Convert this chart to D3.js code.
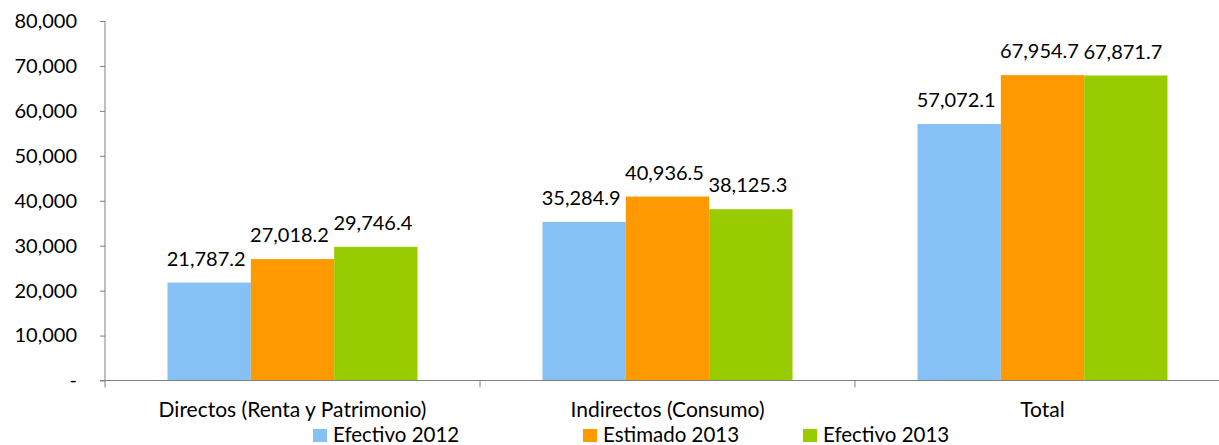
<!DOCTYPE html>
<html><head><meta charset="utf-8">
<script src="https://cdn.jsdelivr.net/npm/d3@7"></script>
<style>body{margin:0;background:#fff}svg{display:block}text{font-family:Lato,"Noto Sans",sans-serif;fill:#000}</style>
</head><body><svg id="c" width="1219" height="445"></svg>
<script>
const categories = ["Directos (Renta y Patrimonio)", "Indirectos (Consumo)", "Total"];
const seriesNames = ["Efectivo 2012", "Estimado 2013", "Efectivo 2013"];
const efectivo2012 = [21787.2, 35284.9, 57072.1];
const estimado2013 = [27018.2, 40936.5, 67954.7];
const efectivo2013 = [29746.4, 38125.3, 67871.7];
const seriesValues = [efectivo2012, estimado2013, efectivo2013];
const colors = ["#85C1F5", "#FF9900", "#99CC00"];
const yTicks = [0, 10000, 20000, 30000, 40000, 50000, 60000, 70000, 80000];

const svg = d3.select("#c");
const x0 = 105, x1 = 1230, yTop = 21, yBot = 380.5;
const x = d3.scaleBand().domain(categories).range([x0, x1]).paddingInner(0).paddingOuter(0);
const xs = d3.scaleBand().domain(d3.range(3)).range([0, x.bandwidth()]).paddingOuter(0.75).paddingInner(0);
const y = d3.scaleLinear().domain([0, 80000]).range([yBot, yTop]);
const fmtTick = v => v === 0 ? "-" : d3.format(",")(v);
const fmtVal = d3.format(",.1f");

// bars
categories.forEach((c, ci) => {
  const g = svg.append("g").attr("transform", `translate(${x(c)},0)`);
  seriesValues.forEach((vals, si) => {
    g.append("rect").attr("x", xs(si)).attr("width", xs.bandwidth())
      .attr("y", y(vals[ci])).attr("height", yBot - y(vals[ci])).attr("fill", colors[si]);
  });
  seriesValues.forEach((vals, si) => {
    g.append("text").attr("x", xs(si) + xs.bandwidth() / 2 - 3).attr("y", y(vals[ci]) - 17)
      .attr("text-anchor", "middle").style("font-size", "20px").text(fmtVal(vals[ci]));
  });
});

// y axis
const ya = svg.append("g").attr("transform", `translate(${x0},0)`)
  .call(d3.axisLeft(y).tickValues(yTicks).tickFormat(fmtTick).tickSize(5).tickPadding(23));
ya.select(".domain").attr("stroke", "#808080").attr("d", `M0,${yTop}V${yBot + 7}`);
ya.selectAll(".tick line").attr("stroke", "#808080");
ya.selectAll(".tick text").style("font-size", "20px").style("font-family", "Lato").attr("fill", "#000");

// x axis
const xa = svg.append("g").attr("transform", `translate(0,${yBot})`);
xa.append("line").attr("x1", x0 - 5).attr("x2", x1).attr("stroke", "#808080");
categories.map(c => x(c) + x.bandwidth()).forEach(v => {
  xa.append("line").attr("x1", v).attr("x2", v).attr("y1", 0).attr("y2", 7).attr("stroke", "#808080");
});
categories.forEach(c => {
  xa.append("text").attr("x", x(c) + x.bandwidth() / 2).attr("y", 36.5)
    .attr("text-anchor", "middle").style("font-size", "21px").text(c);
});

// legend
const legX = [313, 583, 803];
seriesNames.forEach((n, i) => {
  svg.append("rect").attr("x", legX[i]).attr("y", 429).attr("width", 14).attr("height", 13).attr("fill", colors[i]);
  svg.append("text").attr("x", legX[i] + 20).attr("y", 442).style("font-size", "20.5px").text(n);
});
</script></body></html>
